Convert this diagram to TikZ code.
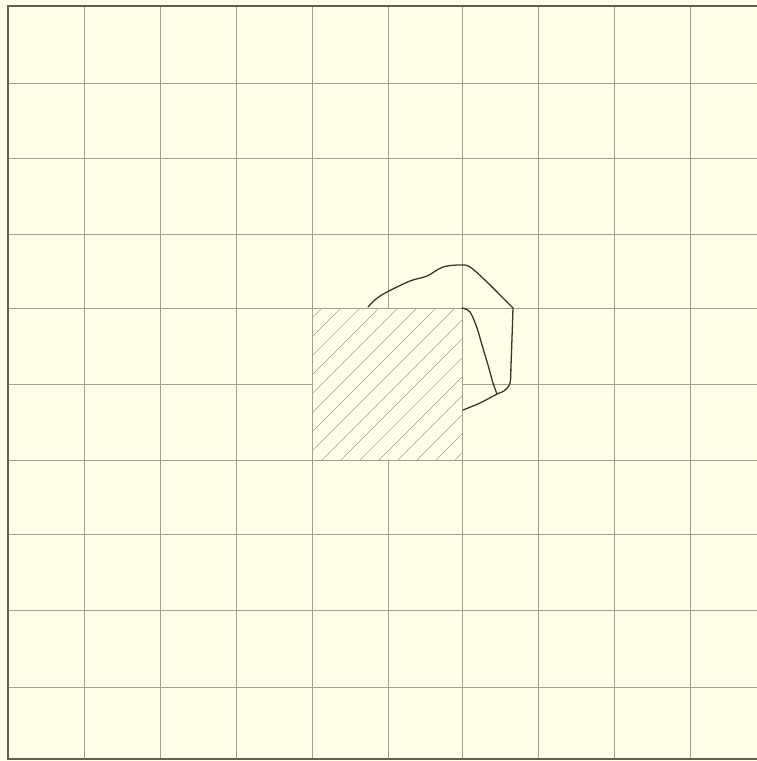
\documentclass[tikz,border=0pt]{standalone}
\usetikzlibrary{calc}
\definecolor{paper}{RGB}{255,255,232}
\definecolor{gridc}{RGB}{160,160,148}
\definecolor{hatchc}{RGB}{165,165,150}
\definecolor{borderc}{RGB}{95,95,88}
\definecolor{inkc}{RGB}{55,55,50}
\tikzset{
  gridline/.style={draw=gridc, line width=0.5pt},
  borderline/.style={draw=borderc, line width=1.6pt},
  hatchline/.style={draw=hatchc, line width=0.5pt},
  blobline/.style={draw=inkc, line width=1.3pt, line join=round, line cap=round},
}
\begin{document}
\begin{tikzpicture}[x=1pt,y=-1pt]
\fill[paper] (0,0) rectangle (757,761);
\useasboundingbox (0,0) rectangle (757,761);
% horizontal grid lines
\foreach \y in {83,158,234,308,460,534,610,687} {
  \draw[gridline] (8,\y) -- (757,\y);
}
\draw[gridline] (8,384) -- (312,384);
\draw[gridline] (462,384) -- (757,384);
% vertical grid lines
\foreach \x in {84,160,236,312,462,538,614,690} {
  \draw[gridline] (\x,6) -- (\x,759);
}
\draw[gridline] (388,6) -- (388,308);
\draw[gridline] (388,460) -- (388,759);
% hatched square
\begin{scope}
  \clip (312,308) rectangle (462,460);
  \foreach \c in {630,649,...,925} {
    \draw[hatchline] (\c-460,460) -- (\c-308,308);
  }
\end{scope}
\draw[gridline] (312,308) rectangle (462,460);
% border
\draw[borderline] (757,6) -- (8,6) -- (8,759) -- (757,759);
% blob
\coordinate (s) at (368,307);
\coordinate (e) at (463,410);
\coordinate (c) at (462,308);
\coordinate (j) at (497,394);
\coordinate (k) at (513,308);
\draw[blobline] plot[smooth, tension=0.55] coordinates {
  (368,307) (376,299) (387,292) (410,281) (427,276) (443,267)
  (460,265) (470,267) (487,282) (503,298) (513,308)};
\draw[blobline] plot[smooth, tension=0.55] coordinates {
  (513,308) (512,338) (511,365) (510,383) (504,391) (497,394) (480,403) (463,410)};
\draw[blobline] plot[smooth, tension=0.55] coordinates {
  (462,308) (470,312) (477,328) (482,345) (488,365) (493,383) (497,394)};
\end{tikzpicture}
\end{document}
